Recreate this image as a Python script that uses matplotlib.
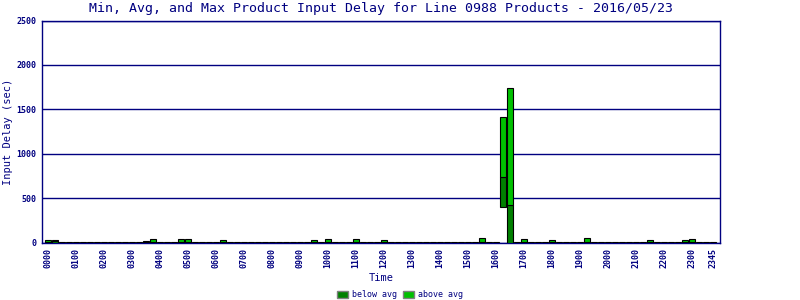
import numpy as np
import matplotlib
matplotlib.use("Agg")
import matplotlib.pyplot as plt
from matplotlib.patches import Patch

# 15 minute slots, 0000 .. 2345
slots = np.arange(96)
tick_pos = [0, 4, 8, 12, 16, 20, 24, 28, 32, 36, 40, 44, 48, 52, 56, 60,
            64, 68, 72, 76, 80, 84, 88, 92, 95]
tick_labels = ["0000", "0100", "0200", "0300", "0400", "0500", "0600", "0700",
               "0800", "0900", "1000", "1100", "1200", "1300", "1400", "1500",
               "1600", "1700", "1800", "1900", "2000", "2100", "2200", "2300",
               "2345"]

# delays in seconds (quiet slots ~3 sec)
max_delay = [26, 26, 3, 3, 3, 3, 3, 3, 3, 3, 3, 3, 3, 3, 22, 37,
             3, 3, 3, 37, 37, 3, 3, 3, 3, 26, 3, 3, 3, 3, 3, 3,
             3, 3, 3, 3, 3, 3, 26, 3, 37, 3, 3, 3, 37, 3, 3, 3,
             26, 3, 3, 3, 3, 3, 3, 3, 3, 3, 3, 3, 3, 3, 48, 3,
             3, 1410, 1737, 3, 37, 3, 3, 3, 26, 3, 3, 3, 3, 48, 3, 3,
             3, 3, 3, 3, 3, 3, 26, 3, 3, 3, 3, 26, 37, 3, 3, 3]
avg_delay = [8, 24, 1, 1, 1, 1, 1, 1, 1, 1, 1, 1, 1, 1, 6, 9,
             1, 1, 1, 9, 9, 1, 1, 1, 1, 7, 1, 1, 1, 1, 1, 1,
             1, 1, 1, 1, 1, 1, 7, 1, 9, 1, 1, 1, 9, 1, 1, 1,
             7, 1, 1, 1, 1, 1, 1, 1, 1, 1, 1, 1, 1, 1, 12, 1,
             1, 742, 420, 1, 9, 1, 1, 1, 7, 1, 1, 1, 1, 12, 1, 1,
             1, 1, 1, 1, 1, 1, 7, 1, 1, 1, 1, 7, 9, 1, 1, 1]
min_delay = [0] * 96
min_delay[65] = 398

navy = "#000080"
dark_green = "#008000"
light_green = "#00c000"

fig = plt.figure(figsize=(8, 3), dpi=100)
ax = fig.add_axes([42 / 800, 57.3 / 300, 678 / 800, 222.2 / 300])

mx = np.array(max_delay)
av = np.array(avg_delay)
mn = np.array(min_delay)

ax.bar(slots, av - mn, bottom=mn, width=0.8, color=dark_green,
       edgecolor="black", linewidth=0.8, zorder=3)
ax.bar(slots, mx - av, bottom=av, width=0.8, color=light_green,
       edgecolor="black", linewidth=0.8, zorder=3)

ax.set_xlim(-0.86, 96)
ax.set_ylim(0, 2500)
ax.set_yticks([0, 500, 1000, 1500, 2000, 2500])
ax.set_xticks(tick_pos)
ax.set_xticklabels(tick_labels, rotation=90)
ax.yaxis.grid(True, color=navy, linewidth=1)
ax.set_axisbelow(True)
ax.tick_params(length=0, labelsize=6, labelcolor=navy, pad=4)
for lab in ax.get_xticklabels() + ax.get_yticklabels():
    lab.set_family("DejaVu Sans Mono")
    lab.set_fontweight("bold")
for sp in ["left", "bottom", "right", "top"]:
    ax.spines[sp].set_color(navy)
    ax.spines[sp].set_linewidth(1)

fig.text(0.476, 0.973, "Min, Avg, and Max Product Input Delay for Line 0988 Products - 2016/05/23",
         ha="center", va="center", fontsize=9.5, color=navy, family="DejaVu Sans Mono")
fig.text(0.476, 0.073, "Time", ha="center", va="center", fontsize=7.5,
         color=navy, family="DejaVu Sans Mono")
fig.text(0.01, 0.56, "Input Delay (sec)", ha="center", va="center", rotation=90,
         fontsize=7.5, color=navy, family="DejaVu Sans Mono")

handles = [Patch(facecolor=dark_green, edgecolor="gray", label="below avg"),
           Patch(facecolor=light_green, edgecolor="gray", label="above avg")]
leg = fig.legend(handles=handles, loc="center", bbox_to_anchor=(0.5, 0.017), ncol=2,
                 frameon=False, handlelength=1.3, handleheight=1.0,
                 handletextpad=0.5, columnspacing=0.8, borderpad=0,
                 prop={"family": "DejaVu Sans Mono", "size": 6})
for t in leg.get_texts():
    t.set_color(navy)

fig.savefig("out.png", dpi=100)
